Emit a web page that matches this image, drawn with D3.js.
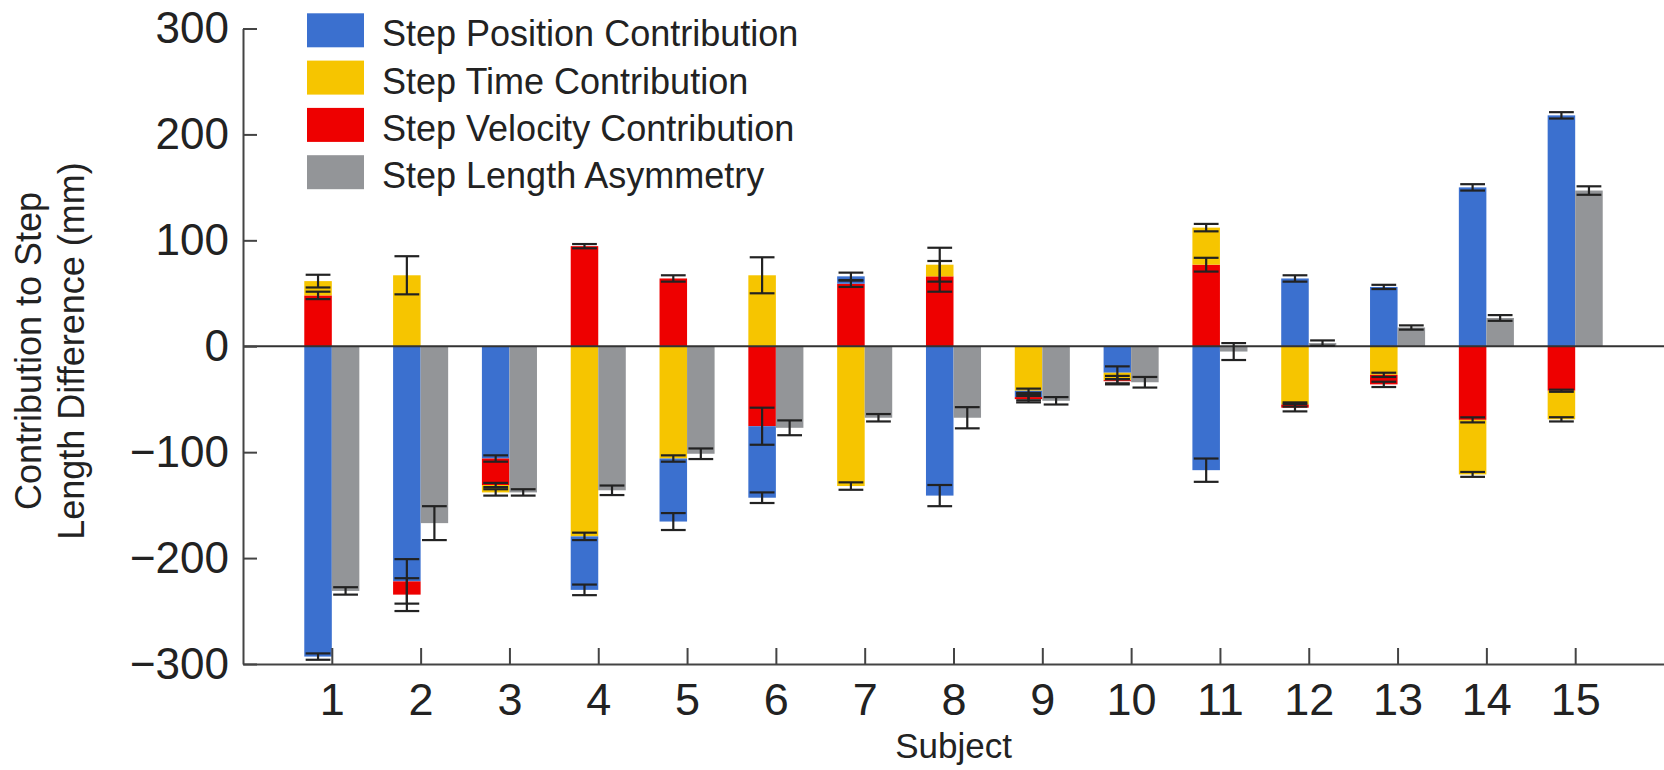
<!DOCTYPE html>
<html lang="en">
<head>
    <meta charset="UTF-8">
    <title>Step Length Contributions</title>
    <script src="https://d3js.org/d3.v7.min.js"></script>
    <style>
        body { margin: 0; background: #fff; }
        svg { display: block; font-family: "Liberation Sans", Arial, Helvetica, sans-serif; }
    </style>
</head>
<body>
<div id="chart"></div>
<script>
    // values (mm)
    const subjects = [1, 2, 3, 4, 5, 6, 7, 8, 9, 10, 11, 12, 13, 14, 15];
    const positionContrib = [-293, -222, -106, -50.5, -59.5, -67.5, 7, -141, -6, -25, -117, 64, 56, 150, 218];
    const timeContrib = [13.5, 67, -7, -179.5, -106, 67, -132, 11, -42, -7, 35, -55, -27, -51.5, -27];
    const velocityContrib = [48, -12.5, -25, 94.5, 64, -75.5, 59, 66, -2, -1, 77, -3, -9, -69.5, -42];
    const asymmetry = [-231, -167, -138, -136, -101.5, -77, -67.5, -67.5, -51.5, -34, -5, 3, 17.7, 26.7, 147];

    const positionErr = [3, 21, 3, 5, 8, 5, 3.5, 10, 3, 6, 11, 3, 2, 3, 3];
    const timeErr = [6, 18, 3, 3.5, 3, 17, 3.5, 16, 2, 4, 3.5, 2, 2, 2.3, 2];
    const velocityErr = [3.5, 15.5, 2, 2, 3, 17.5, 3, 14.5, 3, 2, 6.5, 3.5, 2.5, 2.4, 1];
    const asymmetryErr = [3.5, 16, 3, 4.5, 5, 7, 3.5, 10, 3.5, 5, 8, 2.5, 2, 2.7, 4];

    const yTicks = [-300, -200, -100, 0, 100, 200, 300];

    const series = [
        {key: "Step Position Contribution", color: "#3b70cf", values: positionContrib, err: positionErr},
        {key: "Step Time Contribution", color: "#f6c500", values: timeContrib, err: timeErr},
        {key: "Step Velocity Contribution", color: "#ee0000", values: velocityContrib, err: velocityErr}
    ];
    const grayColor = "#939598";

    const width = 1664, height = 770;
    const svg = d3.select("#chart").append("svg")
        .attr("width", width)
        .attr("height", height);

    const x = d3.scaleLinear().domain([0, 16]).range([243, 1664]);
    const y = d3.scaleLinear().domain([-300, 300]).range([664, 28.5]);
    const bw = (x(1) - x(0)) * 0.31;

    // stack each subject: largest magnitude sits next to zero
    const segments = [];
    const errBars = [];
    subjects.forEach((s, i) => {
        const parts = series.map(se => ({key: se.key, color: se.color, v: se.values[i], e: se.err[i]}));
        [parts.filter(p => p.v >= 0), parts.filter(p => p.v < 0)].forEach(group => {
            group.sort((a, b) => Math.abs(b.v) - Math.abs(a.v));
            let acc = 0;
            group.forEach(p => {
                const y0 = acc, y1 = acc + p.v;
                acc = y1;
                segments.push({subject: s, y0, y1, color: p.color});
                errBars.push({cx: x(s) - bw / 2, end: y1, e: p.e});
            });
        });
        errBars.push({cx: x(s) + bw / 2, end: asymmetry[i], e: asymmetryErr[i]});
    });

    svg.append("g").selectAll("rect")
        .data(segments)
        .join("rect")
        .attr("x", d => x(d.subject) - bw)
        .attr("width", bw)
        .attr("y", d => y(Math.max(d.y0, d.y1)))
        .attr("height", d => Math.abs(y(d.y0) - y(d.y1)))
        .attr("fill", d => d.color);

    svg.append("g").selectAll("rect")
        .data(subjects)
        .join("rect")
        .attr("x", d => x(d))
        .attr("width", bw)
        .attr("y", (d, i) => y(Math.max(0, asymmetry[i])))
        .attr("height", (d, i) => Math.abs(y(asymmetry[i]) - y(0)))
        .attr("fill", grayColor);

    // zero line
    svg.append("line")
        .attr("x1", x(0)).attr("x2", x(16))
        .attr("y1", y(0)).attr("y2", y(0))
        .attr("stroke", "#333").attr("stroke-width", 2);

    // error bars
    const capW = bw * 0.9;
    const eb = svg.append("g")
        .attr("stroke", "#222")
        .attr("stroke-width", 2.2)
        .selectAll("g")
        .data(errBars)
        .join("g");
    eb.append("line")
        .attr("x1", d => d.cx).attr("x2", d => d.cx)
        .attr("y1", d => y(d.end - d.e)).attr("y2", d => y(d.end + d.e));
    eb.append("line")
        .attr("x1", d => d.cx - capW / 2).attr("x2", d => d.cx + capW / 2)
        .attr("y1", d => y(d.end - d.e)).attr("y2", d => y(d.end - d.e));
    eb.append("line")
        .attr("x1", d => d.cx - capW / 2).attr("x2", d => d.cx + capW / 2)
        .attr("y1", d => y(d.end + d.e)).attr("y2", d => y(d.end + d.e));

    // axes
    const yAxis = svg.append("g")
        .attr("transform", `translate(${x(0)},0)`)
        .call(d3.axisLeft(y).tickValues(yTicks).tickSize(-14).tickSizeOuter(0).tickPadding(14));
    const xAxis = svg.append("g")
        .attr("transform", `translate(0,${y(-300)})`)
        .call(d3.axisBottom(x).tickValues(subjects).tickSize(-16).tickSizeOuter(0).tickPadding(19));

    [yAxis, xAxis].forEach(a => {
        a.select(".domain").attr("stroke", "#444").attr("stroke-width", 2);
        a.selectAll(".tick line").attr("stroke", "#444").attr("stroke-width", 2);
        a.selectAll("text").attr("fill", "#222").attr("font-family", null);
    });
    yAxis.selectAll("text").attr("font-size", 44);
    xAxis.selectAll("text").attr("font-size", 45);

    svg.append("text")
        .attr("x", (x(0) + x(16)) / 2)
        .attr("y", 758)
        .attr("text-anchor", "middle")
        .attr("font-size", 35)
        .attr("fill", "#222")
        .text("Subject");

    const yTitle = svg.append("text")
        .attr("transform", "translate(41,351) rotate(-90)")
        .attr("text-anchor", "middle")
        .attr("font-size", 36)
        .attr("fill", "#222");
    yTitle.append("tspan").attr("x", 0).attr("y", 0).text("Contribution to Step");
    yTitle.append("tspan").attr("x", 0).attr("dy", "1.19em").text("Length Difference (mm)");

    // legend
    const legendItems = series.map(s => ({key: s.key, color: s.color}))
        .concat([{key: "Step Length Asymmetry", color: grayColor}]);
    const legend = svg.append("g").selectAll("g")
        .data(legendItems)
        .join("g")
        .attr("transform", (d, i) => `translate(307,${30.3 + i * 47.3})`);
    legend.append("rect")
        .attr("x", 0).attr("y", -17)
        .attr("width", 57).attr("height", 34)
        .attr("fill", d => d.color);
    legend.append("text")
        .attr("x", 75).attr("y", 16)
        .attr("font-size", 36)
        .attr("fill", "#222")
        .text(d => d.key);
</script>
</body>
</html>
